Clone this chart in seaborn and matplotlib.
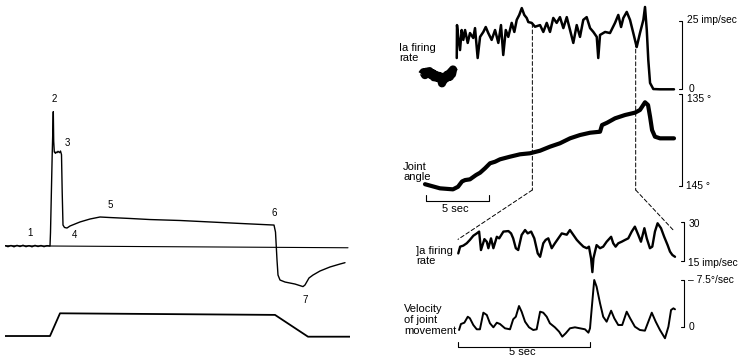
import numpy as np
import matplotlib
matplotlib.use("Agg")
import matplotlib.pyplot as plt
from matplotlib.patches import ConnectionPatch
import seaborn as sns

# ---------------- data ----------------
# Receptor response to a ramp-and-hold stretch (arbitrary units, % of peak)
resp_time = [0.0, 0.3, 0.6, 0.9, 1.2, 1.5, 1.8, 2.1, 2.4, 2.7, 3.0, 3.3, 3.6, 3.9, 4.2,
             4.5, 4.55, 4.72, 4.78, 4.83, 4.87, 4.93,
             5.05, 5.1, 5.2, 5.3, 5.45, 5.55, 5.65, 5.72, 5.8, 5.95,
             6.2, 6.5, 7.0, 7.5, 8.5, 9.5, 10.5, 12.5, 14.5, 17.5, 20.5, 23.5, 26.9,
             27.05, 27.2, 27.3, 27.5, 28.0, 29.0, 29.8, 30.0, 30.4, 30.8, 31.5, 32.5, 33.5, 34.0]
resp_value = [0.3, -0.5, 0.4, -0.6, 0.5, -0.4, 0.6, -0.5, 0.3, -0.6, 0.5, -0.4, 0.4, -0.5, 0.3,
              0.0, 10, 68, 85, 100, 78, 70,
              69, 70, 69.5, 70.5, 69.5, 70.7, 68, 40, 15.6, 13.8,
              13.4, 14.9, 16.4, 17.9, 20.1, 21.6, 21.2, 20.5, 19.7, 19.0, 17.9, 16.8, 15.6,
              10.4, -10.4, -21.6, -25.3, -26.8, -28.3, -30.2, -29.0, -23.8, -21.6, -18.6, -15.6, -13.4, -12.4]
baseline_time = [0.0, 34.3]
baseline_value = [0.2, -1.3]

# Stretch (muscle length) trace
stim_time = [0.0, 4.5, 5.5, 27.0, 30.3, 34.5]
stim_value = [0.0, 0.0, 1.0, 0.93, -0.03, -0.03]

phase_labels = ["1", "2", "3", "4", "5", "6", "7"]

# Ia firing rate (imp/sec) over the slow movement, time in sec
ia_low_time = [-0.32, -0.2, -0.08, 0.04, 0.16, 0.28, 0.4, 0.52, 0.63, 0.75, 0.87, 0.99, 1.11,
               1.2, 1.27, 1.35, 1.43, 1.51, 1.59, 1.67, 1.75, 1.83, 1.9, 1.98, 2.06, 2.14, 2.22]
ia_low_rate = [5.4, 6.2, 5.2, 6.4, 5.8, 6.6, 5.2, 5.9, 4.4, 5.3, 4.2, 4.9, 3.8,
               4.6, 2.2, 3.6, 3.4, 4.6, 4.1, 5.3, 4.4, 5.6, 4.6, 6.4, 5.5, 7.2, 6.4]
ia_time = [2.44, 2.46, 2.56, 2.70, 2.83, 2.96, 3.10, 3.31, 3.49, 3.75,
           3.89, 4.10, 4.29, 4.55, 4.74, 4.94, 5.21, 5.48, 5.74, 5.95,
           6.13, 6.33, 6.53, 6.80, 7.01, 7.20, 7.40, 7.60, 7.80, 7.99,
           8.12, 8.39, 8.65, 9.05, 9.31, 9.58, 9.84, 10.10, 10.37, 10.63,
           10.90, 11.17, 11.43, 11.69, 11.96, 12.22, 12.48, 12.75, 13.02, 13.28,
           13.55, 13.67, 13.81, 14.21, 14.60, 15.00, 15.26, 15.48, 15.66, 15.93,
           16.19, 16.45, 16.72, 16.98, 17.25, 17.38, 17.52, 17.64, 17.78, 18.04,
           18.57, 19.68]
ia_rate = [11.4, 23.4, 19.1, 14.3, 21.6, 18.0, 21.6, 16.9, 20.5, 18.7,
           22.3, 11.4, 19.1, 20.9, 22.7, 20.5, 18.0, 21.6, 16.9, 23.4,
           12.5, 21.6, 19.1, 24.2, 20.9, 25.3, 27.1, 29.6, 27.1, 26.0,
           24.5, 24.2, 22.8, 23.4, 20.9, 24.2, 20.9, 26.0, 24.2, 26.3,
           22.3, 26.3, 21.6, 16.9, 23.4, 19.1, 25.3, 26.3, 22.3, 20.9,
           19.1, 11.4, 19.8, 20.9, 20.5, 24.2, 27.1, 22.7, 26.0, 28.2,
           25.3, 20.5, 15.4, 20.5, 25.3, 30.0, 21.6, 10.7, 2.3, 0.1,
           0.0, 0.0]

# Joint angle (degrees) over the same record
angle_time = [-0.08, 1.11, 2.14, 2.54, 2.86, 3.10, 3.49, 3.97, 4.29, 4.68, 5.08, 5.48,
              5.87, 6.67, 7.46, 8.25, 9.05, 9.84, 10.63, 11.43, 12.22, 13.02, 13.81, 13.97,
              14.37, 15.00, 15.79, 16.59, 16.98, 17.38, 17.62, 17.78, 17.94, 18.17, 18.57, 19.68]
angle_deg = [144.8, 145.25, 145.36, 145.08, 144.5, 144.35, 144.27, 143.8, 143.55, 143.07, 142.52, 142.35,
             142.09, 141.8, 141.54, 141.43, 141.15, 140.71, 140.34, 139.8, 139.44, 139.19, 139.08, 138.35,
             138.1, 137.62, 137.26, 137.0, 136.71, 135.87, 136.17, 137.44, 138.9, 139.62, 139.8, 139.8]

# Expanded segment: Ia firing rate (imp/sec)
zoom_time = [0.01, 0.08, 0.20, 0.33, 0.45, 0.58, 0.71, 0.80, 0.87, 1.00,
             1.09, 1.15, 1.25, 1.34, 1.47, 1.56, 1.72, 1.91, 2.01, 2.09,
             2.19, 2.28, 2.41, 2.54, 2.64, 2.77, 2.89, 3.02, 3.11, 3.23,
             3.32, 3.42, 3.55, 3.67, 3.80, 3.93, 4.12, 4.24, 4.37, 4.50,
             4.62, 4.75, 4.88, 4.96, 5.04, 5.09, 5.13, 5.19, 5.25, 5.38,
             5.50, 5.63, 5.80, 5.88, 5.97, 6.07, 6.20, 6.33, 6.45, 6.58,
             6.70, 6.83, 6.93, 7.06, 7.15, 7.27, 7.36, 7.46, 7.56, 7.69,
             7.81, 7.94, 8.03, 8.12, 8.22]
zoom_rate = [17.8, 20.4, 20.8, 21.7, 23.0, 24.6, 25.5, 26.2, 19.1, 23.3,
             22.3, 19.8, 23.6, 19.8, 24.2, 23.6, 26.2, 26.4, 25.5, 23.6,
             19.8, 19.1, 24.9, 26.8, 25.5, 26.2, 23.6, 17.8, 16.5, 21.7,
             23.0, 23.6, 19.8, 21.7, 23.6, 25.5, 25.0, 26.8, 24.9, 23.0,
             21.7, 20.4, 19.8, 20.4, 15.9, 10.6, 15.9, 18.5, 21.0, 19.8,
             20.4, 22.3, 24.2, 21.7, 20.4, 21.7, 22.3, 23.0, 23.6, 26.2,
             28.1, 24.9, 22.3, 27.5, 23.6, 19.8, 20.4, 26.2, 29.4, 27.5,
             24.2, 21.0, 18.5, 17.2, 16.5]

# Expanded segment: velocity of joint movement (deg/sec, flexion negative)
vel_time = [0.04, 0.11, 0.24, 0.37, 0.45, 0.58, 0.71, 0.83, 0.96, 1.09,
            1.21, 1.34, 1.47, 1.59, 1.78, 1.97, 2.09, 2.19, 2.31, 2.41,
            2.54, 2.69, 2.85, 2.98, 3.11, 3.23, 3.36, 3.48, 3.67, 3.83,
            3.95, 4.08, 4.24, 4.43, 4.62, 4.81, 4.94, 5.00, 5.06, 5.16,
            5.25, 5.38, 5.50, 5.63, 5.80, 5.92, 6.07, 6.22, 6.39, 6.52,
            6.70, 6.89, 7.08, 7.34, 7.49, 7.65, 7.84, 7.97, 8.07, 8.16, 8.22]
vel_value = [0.53, -0.43, -0.64, -1.6, -1.35, -0.27, 0.42, 0.42, -2.25, -1.88,
             -0.55, 0.1, -0.64, -0.43, 0.26, 0.42, -1.19, -1.6, -3.32, -2.41,
             -0.8, 0.1, 0.53, 0.42, -2.41, -2.25, -1.6, -0.55, 0.1, 0.8,
             1.6, 1.06, 0.26, 0.1, 0.26, 0.42, 0.96, 0.26, -2.68, -7.5,
             -6.42, -3.76, -1.6, -0.8, -2.57, -1.35, -0.27, -0.27, -2.41, -1.35,
             0.0, 0.53, 0.64, -2.25, -0.8, 0.53, 1.86, 0.0, -2.68, -2.95, -2.79]

# Times (sec) of the expanded window on the slow record
window_start, window_end = 8.44, 16.64

# ---------------- figure ----------------
sns.set_theme(style="white")
plt.rcParams["font.family"] = ["Liberation Sans", "DejaVu Sans"]
W, H = 740, 360
fig = plt.figure(figsize=(W / 100, H / 100), dpi=100)
fig.patch.set_facecolor("white")


def panel(x0, x1, y0, y1):
    """Axes spanning the given pixel box (y measured from the top)."""
    ax = fig.add_axes([x0 / W, 1 - y1 / H, (x1 - x0) / W, (y1 - y0) / H])
    ax.set_axis_off()
    ax.patch.set_alpha(0)
    return ax


def trace(ax, x, y, lw, cap="round"):
    sns.lineplot(x=x, y=y, ax=ax, color="black", linewidth=lw, sort=False,
                 estimator=None, legend=False, solid_capstyle=cap)


def scale_bar(ax, x, y_lo, y_hi, tick):
    ax.plot([x - tick, x, x, x - tick], [y_lo, y_lo, y_hi, y_hi],
            color="black", lw=0.8, clip_on=False)


def time_bar(ax, x0, x1, y, y_tick):
    ax.plot([x0, x0, x1, x1], [y_tick, y, y, y_tick], color="black", lw=0.8,
            clip_on=False)


FS = 8
k = dict(color="black", fontsize=FS)
ks = dict(color="black", fontsize=7.4)   # scale-bar annotations

# ---- left: ramp-and-hold response ----
ax_resp = panel(5, 350, 95, 305)
ax_resp.set_xlim(0, 34.5)
ax_resp.set_ylim(-43.9, 112.4)
ax_resp.plot(baseline_time, baseline_value, color="black", lw=0.8)
trace(ax_resp, resp_time, resp_value, 1.0)
for lab, (tx, ty) in zip(phase_labels, [(2.5, 9.7), (4.9, 109.5), (6.2, 76.7), (6.9, 8.2),
                                        (10.5, 30.5), (26.9, 24.6), (30.0, -40.2)]):
    ax_resp.text(tx, ty, lab, ha="center", va="center", color="black", fontsize=7)

ax_stim = panel(5, 350, 305, 345)
ax_stim.set_xlim(0, 34.5)
ax_stim.set_ylim(-0.396, 1.366)
trace(ax_stim, stim_time, stim_value, 1.3)

# ---- right: slow movement record ----
ax_ia = panel(415, 690, 0, 92)
ax_ia.set_xlim(-0.873, 20.95)
ax_ia.set_ylim(-0.98, 32.54)
trace(ax_ia, ia_low_time, ia_low_rate, 6.0, cap="butt")
trace(ax_ia, ia_time, ia_rate, 1.8)
scale_bar(ax_ia, 20.29, 0, 25, 0.2)
ax_ia.annotate("25 imp/sec", (20.29, 25), xytext=(4.0, 0.5), textcoords="offset points",
               va="center", ha="left", **ks)
ax_ia.annotate("0", (20.29, 0), xytext=(5, 0), textcoords="offset points",
               va="center", ha="left", **ks)
fig.text(399 / W, 1 - 53 / H, "Ia firing\nrate", ha="left", va="center",
         linespacing=1.1, **k)

ax_ang = panel(415, 690, 92, 192)
ax_ang.set_xlim(-0.873, 20.95)
ax_ang.set_ylim(145.65, 134.75)
trace(ax_ang, angle_time, angle_deg, 3.0)
scale_bar(ax_ang, 20.29, 145, 135, 0.2)
ax_ang.annotate("135 °", (20.29, 135), xytext=(4, -3.5), textcoords="offset points",
                va="center", ha="left", **ks)
ax_ang.annotate("145 °", (20.29, 145), xytext=(3, 0), textcoords="offset points",
                va="center", ha="left", **ks)
time_bar(ax_ang, 0, 5, 146.64, 145.98)
ax_ang.text(2.3, 147.5, "5 sec", ha="center", va="center", **k)
fig.text(403 / W, 1 - 172 / H, "Joint\nangle", ha="left", va="center",
         linespacing=1.1, **k)

# ---- right: expanded segment ----
ax_zf = panel(455, 690, 215, 283)
ax_zf.set_xlim(-0.114, 8.788)
ax_zf.set_ylim(6.42, 32.58)
trace(ax_zf, zoom_time, zoom_rate, 1.7)
scale_bar(ax_zf, 8.56, 15, 30, 0.12)
ax_zf.annotate("30", (8.56, 30), xytext=(3.0, -1.5), textcoords="offset points",
               va="center", ha="left", **ks)
ax_zf.annotate("15 imp/sec", (8.56, 15), xytext=(3.0, -1.5), textcoords="offset points",
               va="center", ha="left", **ks)
fig.text(416 / W, 1 - 256 / H, "]a firing\nrate", ha="left", va="center",
         linespacing=1.1, **k)

ax_vel = panel(455, 690, 275, 345)
ax_vel.set_xlim(-0.114, 8.788)
ax_vel.set_ylim(2.94, -8.30)
trace(ax_vel, vel_time, vel_value, 1.4)
scale_bar(ax_vel, 8.56, 0, -7.5, 0.12)
ax_vel.annotate("– 7.5°/sec", (8.56, -7.5), xytext=(3.0, 0), textcoords="offset points",
                va="center", ha="left", **ks)
ax_vel.annotate("0", (8.56, 0), xytext=(3.5, 0), textcoords="offset points",
                va="center", ha="left", **ks)
time_bar(ax_vel, 0, 5, 3.21, 2.38)
ax_vel.text(2.45, 4.1, "5 sec", ha="center", va="center", **k)
fig.text(404 / W, 1 - 320 / H, "Velocity\nof joint\nmovement", ha="left", va="center",
         linespacing=1.1, **k)

# ---- dashed lines linking the expanded window to the slow record ----
dash = dict(color="black", lw=0.7, linestyle=(0, (4, 2.5)))
for t_win, t_zoom, r_zoom in [(window_start, 0.0, 23.2), (window_end, 8.18, 26.5)]:
    r_top = float(np.interp(t_win, ia_time, ia_rate))
    fig.add_artist(ConnectionPatch((t_win, r_top), (t_win, 145.43), "data", "data",
                                   axesA=ax_ia, axesB=ax_ang, **dash))
    fig.add_artist(ConnectionPatch((t_win, 145.43), (t_zoom, r_zoom), "data", "data",
                                   axesA=ax_ang, axesB=ax_zf, **dash))

fig.savefig("out.png", dpi=100, facecolor="white")
